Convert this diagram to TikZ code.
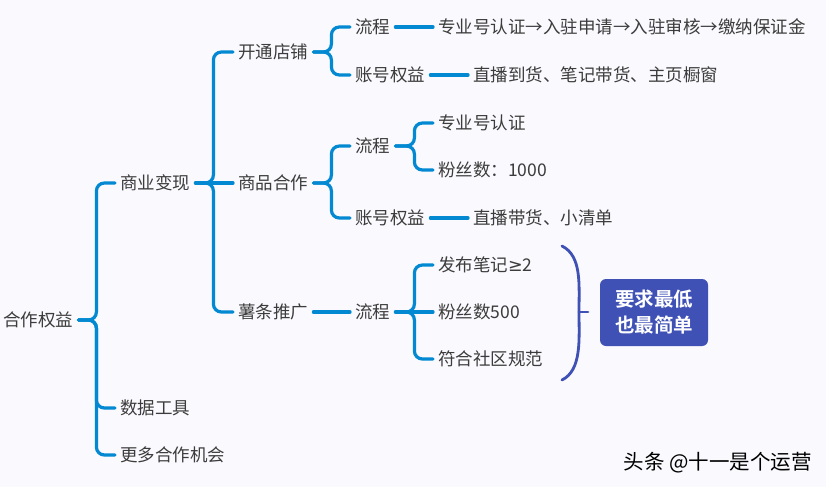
\documentclass[tikz,border=0pt]{standalone}
\usepackage{fontspec}
\setmainfont{Noto Sans CJK SC}[BoldFont={Noto Sans CJK SC Bold}]
\newfontfamily\mathsym{DejaVu Sans}
\usepackage{xcolor}
\usepackage{tikz}
\usetikzlibrary{positioning}
\definecolor{mapblue}{RGB}{3,137,209}
\definecolor{braceblue}{RGB}{63,81,181}
\definecolor{txtgray}{RGB}{60,60,60}
\definecolor{bgpaper}{RGB}{249,249,254}

\begin{document}
\begin{tikzpicture}[x=1pt, y=-1pt,
    topic/.style={text=txtgray, font=\fontsize{17.5}{20}\selectfont, anchor=west, inner xsep=5pt, inner ysep=2pt, text height=13.4pt, text depth=0pt},
    link/.style={draw=mapblue, line width=3.2pt, rounded corners=8pt, line cap=round},
    brace/.style={draw=braceblue, line width=2.8pt, line cap=round},
    note/.style={fill=braceblue, rounded corners=6pt, text=white, font=\fontsize{19.5}{26}\selectfont\bfseries, align=center, minimum width=108pt, minimum height=67pt}
]
\fill[bgpaper] (0,0) rectangle (826,487);
\useasboundingbox (0,0) rectangle (826,487);

% Root and first level
\node[topic] (root) at (-2,320) {合作权益};
\node[topic] (sy) at (115,183) {商业变现};
\node[topic] (sj) at (115,408) {数据工具};
\node[topic] (gd) at (115,455) {更多合作机会};
\draw[link] (root.east) -- ++(18,0) |- (sy.west);
\draw[link] (root.east) -- ++(18,0) |- (sj.west);
\draw[link] (root.east) -- ++(18,0) |- (gd.west);

% Second level
\node[topic] (kt) at (233,52) {开通店铺};
\node[topic] (sp) at (233,183) {商品合作};
\node[topic] (st) at (233,312) {薯条推广};
\draw[link] (sy.east) -- ++(18,0) |- (kt.west);
\draw[link] (sy.east) -- (sp.west);
\draw[link] (sy.east) -- ++(18,0) |- (st.west);

% Open a shop
\node[topic] (ktlc) at (350,27) {流程};
\node[topic] (ktzh) at (350,75) {账号权益};
\draw[link] (kt.east) -- ++(18,0) |- (ktlc.west);
\draw[link] (kt.east) -- ++(18,0) |- (ktzh.west);
\node[topic] (ktsteps) at (433,27) {专业号认证→入驻申请→入驻审核→缴纳保证金};
\node[topic] (ktright) at (468,75) {直播到货、笔记带货、主页橱窗};
\draw[link] (ktlc.east) -- (ktsteps.west);
\draw[link] (ktzh.east) -- (ktright.west);

% Goods cooperation
\node[topic] (splc) at (350,146) {流程};
\node[topic] (spzh) at (350,218) {账号权益};
\draw[link] (sp.east) -- ++(18,0) |- (splc.west);
\draw[link] (sp.east) -- ++(18,0) |- (spzh.west);
\node[topic] (spa) at (433,123) {专业号认证};
\node[topic] (spb) at (433,170) {粉丝数：1000};
\draw[link] (splc.east) -- ++(19,0) |- (spa.west);
\draw[link] (splc.east) -- ++(19,0) |- (spb.west);
\node[topic] (spright) at (468,218) {直播带货、小清单};
\draw[link] (spzh.east) -- (spright.west);

% Promotion
\node[topic] (stlc) at (350,312) {流程};
\draw[link] (st.east) -- (stlc.west);
\node[topic] (sta) at (433,265) {发布笔记{\mathsym ≥}2};
\node[topic] (stb) at (433,312) {粉丝数500};
\node[topic] (stc) at (433,359) {符合社区规范};
\draw[link] (stlc.east) -- ++(19,0) |- (sta.west);
\draw[link] (stlc.east) -- (stb.west);
\draw[link] (stlc.east) -- ++(19,0) |- (stc.west);

% Brace and summary
\coordinate (brtop) at (562,246);
\coordinate (brbot) at (562,380);
\coordinate (brmid) at (579,312);
\coordinate (brtip) at (588,312);
\draw[brace] (brtop) .. controls (582,256) and (579,285) .. (brmid) .. controls (579,339) and (582,370) .. (brbot);
\draw[brace] (brmid) -- (brtip);
\node[note] (sum) at (654,312.5) {要求最低\\也最简单};

% Watermark
\node[anchor=east, inner sep=0pt, font=\fontsize{20.5}{22}\selectfont, text=black] (mark) at (812,463) {头条 @十一是个运营};
\end{tikzpicture}
\end{document}
